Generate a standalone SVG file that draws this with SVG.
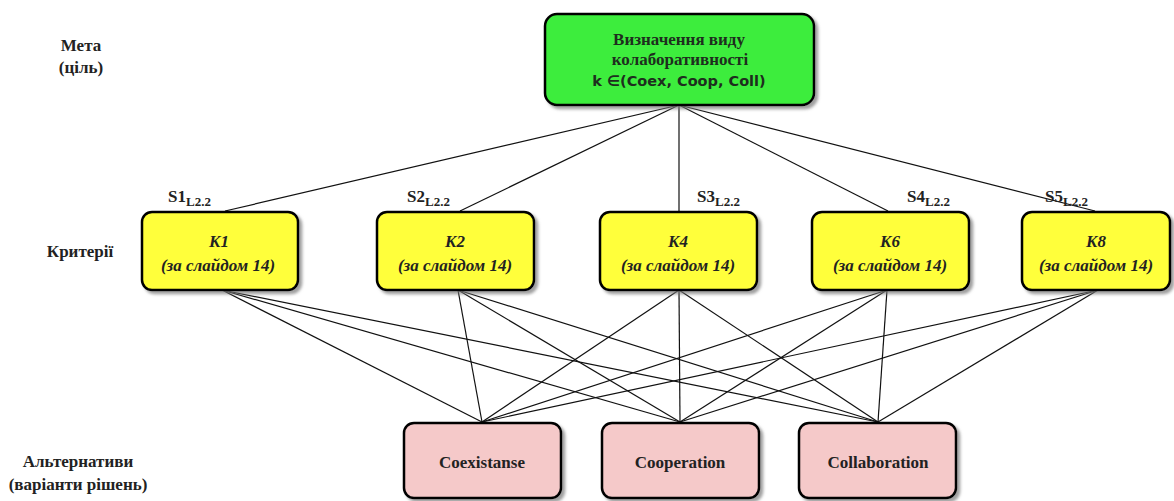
<svg xmlns="http://www.w3.org/2000/svg" width="1174" height="501" viewBox="0 0 1174 501">
<defs>
<filter id="sh" x="-10%" y="-10%" width="130%" height="140%">
<feDropShadow dx="3" dy="3" stdDeviation="1.5" flood-color="#777" flood-opacity="0.7"/>
</filter>
<style>
.box{stroke:#000;stroke-width:2.5;filter:url(#sh)}
.g{fill:#3ded3d}
.y{fill:#ffff3a}
.p{fill:#f5c9c9}
.c line{stroke:#111;stroke-width:1.2}
</style>
</defs>
<rect width="1174" height="501" fill="#fff"/>
<g id="side-labels" font-family="Liberation Serif, serif" font-weight="bold" font-size="17" fill="#222" text-anchor="middle">
<text x="81" y="51">Мета</text>
<text x="81" y="73">(ціль)</text>
<text x="80" y="257">Критерії</text>
<text x="78" y="467">Альтернативи</text>
<text x="78" y="490">(варіанти рішень)</text>
</g>
<g class="c" id="connectors">
<line x1="679" y1="105" x2="225" y2="211"/>
<line x1="679" y1="105" x2="460" y2="211"/>
<line x1="679" y1="105" x2="679" y2="211"/>
<line x1="679" y1="105" x2="888" y2="211"/>
<line x1="679" y1="105" x2="1095" y2="211"/>
<line x1="222" y1="290" x2="482" y2="422"/>
<line x1="222" y1="290" x2="680" y2="422"/>
<line x1="222" y1="290" x2="878" y2="422"/>
<line x1="458" y1="290" x2="482" y2="422"/>
<line x1="458" y1="290" x2="680" y2="422"/>
<line x1="458" y1="290" x2="878" y2="422"/>
<line x1="679" y1="290" x2="482" y2="422"/>
<line x1="679" y1="290" x2="680" y2="422"/>
<line x1="679" y1="290" x2="878" y2="422"/>
<line x1="887" y1="290" x2="482" y2="422"/>
<line x1="887" y1="290" x2="680" y2="422"/>
<line x1="887" y1="290" x2="878" y2="422"/>
<line x1="1098" y1="290" x2="482" y2="422"/>
<line x1="1098" y1="290" x2="680" y2="422"/>
<line x1="1098" y1="290" x2="878" y2="422"/>
</g>
<g id="goal" font-family="Liberation Serif, serif" font-weight="bold" font-size="17" fill="#1e2e1e" text-anchor="middle">
<rect class="box g" x="545" y="14" width="269" height="91" rx="12"/>
<text x="679" y="45">Визначення виду</text>
<text x="680" y="65">колаборативності</text>
<text x="679" y="86" font-family="DejaVu Sans, sans-serif" font-size="14.5">k ∈(Coex, Coop, Coll)</text>
</g>
<g font-family="Liberation Serif, serif" font-weight="bold" font-size="17" fill="#222">
<g id="k1">
<rect class="box y" x="142" y="212" width="156" height="78" rx="10"/>
<text text-anchor="middle" font-style="italic" x="219" y="247">K1</text>
<text text-anchor="middle" font-style="italic" x="218" y="271">(за слайдом 14)</text>
<text x="168" y="202">S1<tspan font-size="13" dy="4">L2.2</tspan></text>
</g>
<g id="k2">
<rect class="box y" x="377" y="212" width="157" height="78" rx="10"/>
<text text-anchor="middle" font-style="italic" x="455" y="247">K2</text>
<text text-anchor="middle" font-style="italic" x="455" y="271">(за слайдом 14)</text>
<text x="407" y="202">S2<tspan font-size="13" dy="4">L2.2</tspan></text>
</g>
<g id="k4">
<rect class="box y" x="600" y="212" width="157" height="78" rx="10"/>
<text text-anchor="middle" font-style="italic" x="678" y="247">K4</text>
<text text-anchor="middle" font-style="italic" x="678" y="271">(за слайдом 14)</text>
<text x="697" y="202">S3<tspan font-size="13" dy="4">L2.2</tspan></text>
</g>
<g id="k6">
<rect class="box y" x="812" y="212" width="157" height="78" rx="10"/>
<text text-anchor="middle" font-style="italic" x="890" y="247">K6</text>
<text text-anchor="middle" font-style="italic" x="890" y="271">(за слайдом 14)</text>
<text x="907" y="202">S4<tspan font-size="13" dy="4">L2.2</tspan></text>
</g>
<g id="k8">
<rect class="box y" x="1022" y="212" width="148" height="78" rx="10"/>
<text text-anchor="middle" font-style="italic" x="1096" y="247">K8</text>
<text text-anchor="middle" font-style="italic" x="1096" y="271">(за слайдом 14)</text>
<text x="1045" y="202">S5<tspan font-size="13" dy="4">L2.2</tspan></text>
</g>
</g>
<g font-family="Liberation Serif, serif" font-weight="bold" font-size="17" fill="#222" text-anchor="middle">
<g id="coexistanse">
<rect class="box p" x="404" y="423" width="157" height="75" rx="10"/>
<text x="482" y="468">Coexistanse</text>
</g>
<g id="cooperation">
<rect class="box p" x="602" y="423" width="157" height="75" rx="10"/>
<text x="680" y="468">Cooperation</text>
</g>
<g id="collaboration">
<rect class="box p" x="799" y="423" width="157" height="75" rx="10"/>
<text x="878" y="468">Collaboration</text>
</g>
</g>
</svg>
